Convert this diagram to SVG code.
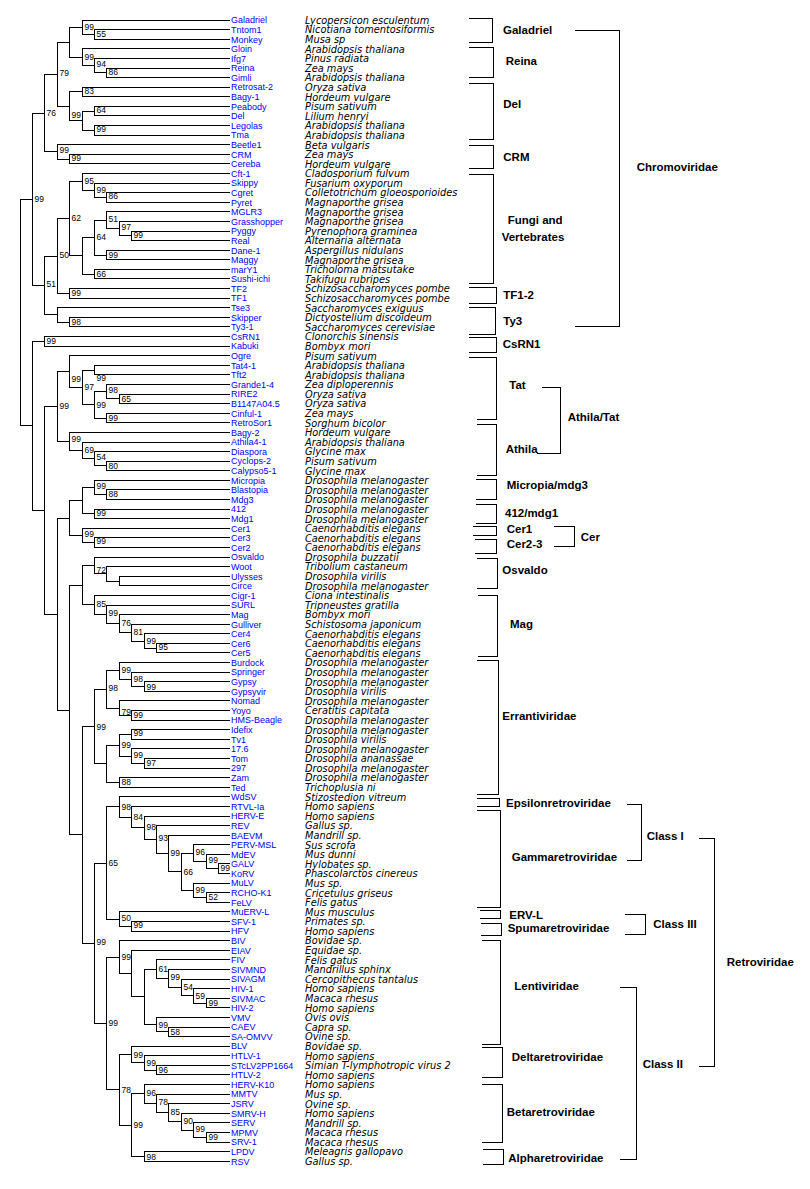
<svg xmlns="http://www.w3.org/2000/svg" width="810" height="1189" viewBox="0 0 810 1189">
<style>
.t{stroke:#000;stroke-width:1;fill:none;shape-rendering:crispEdges}
.bs{font-family:"Liberation Sans",Arial,sans-serif;font-size:8.5px;fill:#000}
.ln{font-family:"Liberation Sans",Arial,sans-serif;font-size:9px;fill:#0000FF}
.sp{font-family:"DejaVu Sans",sans-serif;font-style:italic;font-size:9.8px;fill:#000}
.gl{font-family:"Liberation Sans",Arial,sans-serif;font-weight:bold;font-size:11.5px;fill:#000}
</style>
<rect width="810" height="1189" fill="#fff"/>
<g id="branches" class="t">
<path d="M230 29.6H94.5V39.2H230"/><path d="M230 20H82.5V34.4H94.5"/><path d="M230 68H106.5V77.5H230"/><path d="M230 58.4H94.5V72.75H106.5"/><path d="M230 48.8H82.5V65.6H94.5"/><path d="M82.5 27.2H69.5V57.2H82.5"/>
<path d="M230 87.1H82.5V96.7H230"/><path d="M230 106.3H94.5V115.9H230"/><path d="M230 125.5H94.5V135.1H230"/><path d="M94.5 111.1H82.5V130.3H94.5"/><path d="M82.5 91.9H69.5V120.7H82.5"/><path d="M69.5 42.2H57.5V106.3H69.5"/>
<path d="M230 154.3H69.5V163.9H230"/><path d="M230 144.7H57.5V159.1H69.5"/><path d="M57.5 74.25H44.5V151.9H57.5"/>
<path d="M230 192.6H106.5V202.2H230"/><path d="M230 183H94.5V197.4H106.5"/><path d="M230 173.4H82.5V190.2H94.5"/><path d="M230 231H131.5V240.6H230"/><path d="M230 221.4H119.5V235.8H131.5"/><path d="M230 211.8H106.5V228.6H119.5"/><path d="M230 250.2H106.5V259.8H230"/><path d="M106.5 220.2H94.5V255H106.5"/><path d="M230 269.3H94.5V278.9H230"/><path d="M94.5 237.6H82.5V274.1H94.5"/><path d="M82.5 181.8H69.5V255.85H82.5"/><path d="M230 288.5H69.5V298.1H230"/><path d="M69.5 218.8H57.5V293.3H69.5"/>
<path d="M230 317.3H69.5V326.9H230"/><path d="M230 307.7H57.5V322.1H69.5"/><path d="M57.5 256.05H44.5V314.9H57.5"/><path d="M44.5 113.1H32.5V285.5H44.5"/>
<path d="M230 336.5H44.5V346.1H230"/>
<path d="M230 365.2H94.5V374.8H230"/><path d="M230 394H119.5V403.6H230"/><path d="M230 384.4H106.5V398.8H119.5"/><path d="M230 413.2H106.5V422.8H230"/><path d="M106.5 391.6H94.5V418H106.5"/><path d="M94.5 370H82.5V404.8H94.5"/><path d="M230 355.7H69.5V387.4H82.5"/>
<path d="M230 461.1H106.5V470.7H230"/><path d="M230 451.6H94.5V465.9H106.5"/><path d="M230 442H82.5V458.75H94.5"/><path d="M230 432.4H69.5V450.4H82.5"/><path d="M69.5 371.55H57.5V441.4H69.5"/>
<path d="M230 489.9H106.5V499.5H230"/><path d="M230 480.3H94.5V494.7H106.5"/><path d="M230 509.1H94.5V518.7H230"/><path d="M94.5 487.5H82.5V513.9H94.5"/><path d="M230 537.9H94.5V547.5H230"/><path d="M230 528.3H82.5V542.7H94.5"/><path d="M82.5 500.7H69.5V535.5H82.5"/>
<path d="M230 576.2H119.5V585.8H230"/><path d="M230 566.6H106.5V581H119.5"/><path d="M230 557H94.5V573.8H106.5"/>
<path d="M230 643.4H156.5V652.9H230"/><path d="M230 633.8H144.5V648.15H156.5"/><path d="M230 624.2H131.5V641H144.5"/><path d="M230 614.6H119.5V632.6H131.5"/><path d="M230 605H106.5V623.6H119.5"/><path d="M230 595.4H94.5V614.3H106.5"/><path d="M94.5 565.4H82.5V604.85H94.5"/>
<path d="M230 681.7H144.5V691.3H230"/><path d="M230 672.1H131.5V686.5H144.5"/><path d="M230 662.5H119.5V679.3H131.5"/><path d="M230 710.5H131.5V720.1H230"/><path d="M230 700.9H119.5V715.3H131.5"/><path d="M119.5 670.9H106.5V708.1H119.5"/>
<path d="M230 729.7H131.5V739.3H230"/><path d="M230 758.4H144.5V768H230"/><path d="M230 748.8H131.5V763.2H144.5"/><path d="M131.5 734.5H119.5V756H131.5"/><path d="M230 777.6H119.5V787.2H230"/><path d="M119.5 745.25H106.5V782.4H119.5"/><path d="M106.5 689.5H94.5V763.8H106.5"/>
<path d="M230 863.9H218.5V873.5H230"/><path d="M230 854.3H206.5V868.7H218.5"/><path d="M230 844.7H193.5V861.5H206.5"/><path d="M230 892.7H206.5V902.3H230"/><path d="M230 883.1H193.5V897.5H206.5"/><path d="M193.5 853.1H181.5V890.3H193.5"/><path d="M230 835.2H168.5V871.7H181.5"/><path d="M230 825.6H156.5V853.45H168.5"/><path d="M230 816H144.5V839.5H156.5"/><path d="M230 806.4H131.5V827.75H144.5"/><path d="M230 796.8H119.5V817.1H131.5"/>
<path d="M230 921.5H131.5V931.1H230"/><path d="M230 911.9H119.5V926.3H131.5"/><path d="M119.5 806.95H106.5V919.1H119.5"/>
<path d="M230 998.2H206.5V1007.8H230"/><path d="M230 988.6H193.5V1003H206.5"/><path d="M230 979H181.5V995.8H193.5"/><path d="M230 969.4H168.5V987.4H181.5"/><path d="M230 959.8H156.5V978.4H168.5"/><path d="M230 1027H168.5V1036.5H230"/><path d="M230 1017.4H156.5V1031.75H168.5"/><path d="M156.5 969.1H144.5V1024.6H156.5"/><path d="M230 950.2H131.5V996.85H144.5"/><path d="M230 940.6H119.5V973.5H131.5"/>
<path d="M230 1065.3H156.5V1074.9H230"/><path d="M230 1055.7H144.5V1070.1H156.5"/><path d="M230 1046.1H131.5V1062.9H144.5"/>
<path d="M230 1132.4H206.5V1142H230"/><path d="M230 1122.9H193.5V1137.2H206.5"/><path d="M230 1113.3H181.5V1130.05H193.5"/><path d="M230 1103.7H168.5V1121.7H181.5"/><path d="M230 1094.1H156.5V1112.7H168.5"/><path d="M230 1084.5H144.5V1103.4H156.5"/><path d="M230 1151.6H144.5V1161.2H230"/><path d="M144.5 1093.95H131.5V1156.4H144.5"/><path d="M131.5 1054.5H119.5V1125.2H131.5"/><path d="M119.5 957.05H106.5V1089.85H119.5"/><path d="M106.5 863H94.5V1023.45H106.5"/>
<path d="M94.5 726.65H82.5V943.2H94.5"/><path d="M82.5 585.1H69.5V834.9H82.5"/><path d="M69.5 518.1H57.5V710H69.5"/><path d="M57.5 406.5H44.5V614.05H57.5"/><path d="M44.5 341.3H32.5V510.3H44.5"/><path d="M32.5 199.3H20.5V425.8H32.5"/>
</g>
<g id="bootstrap" class="bs">
<text x="96.5" y="37.2">55</text><text x="84.5" y="29.7">99</text><text x="108.5" y="74.7">86</text><text x="96.5" y="67.3">94</text><text x="84.5" y="59.7">99</text><text x="84.5" y="93.7">83</text><text x="96.5" y="113">64</text><text x="96.5" y="132.3">99</text><text x="71.5" y="118">99</text><text x="59.5" y="76.3">79</text><text x="71.5" y="161.3">99</text><text x="59.5" y="153">99</text><text x="46.5" y="115.7">76</text>
<text x="108.5" y="199">86</text><text x="96.5" y="193">99</text><text x="84.5" y="184">95</text><text x="133.5" y="237.5">99</text><text x="121.5" y="230.3">97</text><text x="108.5" y="222.3">51</text><text x="108.5" y="257.7">99</text><text x="96.5" y="239.7">64</text><text x="96.5" y="277">66</text><text x="71.5" y="221.3">62</text><text x="71.5" y="296.3">99</text><text x="59.5" y="258">50</text><text x="71.5" y="324.7">98</text><text x="46.5" y="287.3">51</text><text x="34.5" y="202">99</text>
<text x="46.5" y="344">99</text><text x="96.5" y="381.3">99</text><text x="121.5" y="401.7">65</text><text x="108.5" y="393">98</text><text x="108.5" y="421">99</text><text x="96.5" y="407.7">99</text><text x="84.5" y="389.7">97</text><text x="71.5" y="382.3">99</text>
<text x="108.5" y="469">80</text><text x="96.5" y="460.3">54</text><text x="84.5" y="452.7">69</text><text x="71.5" y="442.3">99</text><text x="59.5" y="409">99</text>
<text x="108.5" y="497">88</text><text x="96.5" y="489">99</text><text x="96.5" y="516.3">99</text><text x="96.5" y="544.3">99</text><text x="84.5" y="537.3">99</text><text x="96.5" y="573">72</text>
<text x="158.5" y="649.7">95</text><text x="146.5" y="643.7">99</text><text x="133.5" y="634.7">81</text><text x="121.5" y="625.7">76</text><text x="108.5" y="616.3">99</text><text x="96.5" y="607.3">85</text>
<text x="146.5" y="689.7">99</text><text x="133.5" y="682.3">98</text><text x="121.5" y="673">99</text><text x="133.5" y="718">99</text><text x="121.5" y="714.5">79</text><text x="108.5" y="691.3">98</text><text x="133.5" y="736.3">99</text><text x="146.5" y="765.7">97</text><text x="133.5" y="758">99</text><text x="121.5" y="748">99</text><text x="121.5" y="785.3">88</text><text x="96.5" y="729.7">99</text>
<text x="220.5" y="870.7">99</text><text x="208.5" y="863">99</text><text x="195.5" y="855.3">96</text><text x="208.5" y="900.3">52</text><text x="195.5" y="893">99</text><text x="183.5" y="874.7">66</text><text x="170.5" y="855.7">99</text><text x="158.5" y="841.3">93</text><text x="146.5" y="830.3">98</text><text x="133.5" y="819.7">84</text><text x="121.5" y="809.7">98</text><text x="133.5" y="928">99</text><text x="121.5" y="921.3">50</text><text x="108.5" y="865.7">65</text>
<text x="208.5" y="1005.7">99</text><text x="195.5" y="999">59</text><text x="183.5" y="989.7">54</text><text x="170.5" y="980.3">99</text><text x="158.5" y="972">61</text><text x="170.5" y="1034.7">58</text><text x="158.5" y="1028">99</text><text x="121.5" y="959.7">99</text>
<text x="158.5" y="1073">96</text><text x="146.5" y="1066.3">99</text><text x="133.5" y="1058">99</text><text x="208.5" y="1140.3">99</text><text x="195.5" y="1132.3">99</text><text x="183.5" y="1123.7">90</text><text x="170.5" y="1114.7">85</text><text x="158.5" y="1105.3">78</text><text x="146.5" y="1096.3">96</text><text x="146.5" y="1159.7">98</text><text x="133.5" y="1128">99</text><text x="121.5" y="1093">78</text><text x="108.5" y="1025.7">99</text><text x="96.5" y="944.7">99</text>
</g>
<g id="leaves">
<g id="l0" transform="translate(0,20)"><text class="ln" x="231" y="3.3">Galadriel</text><text class="sp" x="305" y="3.8">Lycopersicon esculentum</text></g>
<g id="l1" transform="translate(0,29.6)"><text class="ln" x="231" y="3.3">Tntom1</text><text class="sp" x="305" y="3.8">Nicotiana tomentosiformis</text></g>
<g id="l2" transform="translate(0,39.2)"><text class="ln" x="231" y="3.3">Monkey</text><text class="sp" x="305" y="3.8">Musa sp</text></g>
<g id="l3" transform="translate(0,48.8)"><text class="ln" x="231" y="3.3">Gloin</text><text class="sp" x="305" y="3.8">Arabidopsis thaliana</text></g>
<g id="l4" transform="translate(0,58.4)"><text class="ln" x="231" y="3.3">Ifg7</text><text class="sp" x="305" y="3.8">Pinus radiata</text></g>
<g id="l5" transform="translate(0,68)"><text class="ln" x="231" y="3.3">Reina</text><text class="sp" x="305" y="3.8">Zea mays</text></g>
<g id="l6" transform="translate(0,77.5)"><text class="ln" x="231" y="3.3">Gimli</text><text class="sp" x="305" y="3.8">Arabidopsis thaliana</text></g>
<g id="l7" transform="translate(0,87.1)"><text class="ln" x="231" y="3.3">Retrosat-2</text><text class="sp" x="305" y="3.8">Oryza sativa</text></g>
<g id="l8" transform="translate(0,96.7)"><text class="ln" x="231" y="3.3">Bagy-1</text><text class="sp" x="305" y="3.8">Hordeum vulgare</text></g>
<g id="l9" transform="translate(0,106.3)"><text class="ln" x="231" y="3.3">Peabody</text><text class="sp" x="305" y="3.8">Pisum sativum</text></g>
<g id="l10" transform="translate(0,115.9)"><text class="ln" x="231" y="3.3">Del</text><text class="sp" x="305" y="3.8">Lilium henryi</text></g>
<g id="l11" transform="translate(0,125.5)"><text class="ln" x="231" y="3.3">Legolas</text><text class="sp" x="305" y="3.8">Arabidopsis thaliana</text></g>
<g id="l12" transform="translate(0,135.1)"><text class="ln" x="231" y="3.3">Tma</text><text class="sp" x="305" y="3.8">Arabidopsis thaliana</text></g>
<g id="l13" transform="translate(0,144.7)"><text class="ln" x="231" y="3.3">Beetle1</text><text class="sp" x="305" y="3.8">Beta vulgaris</text></g>
<g id="l14" transform="translate(0,154.3)"><text class="ln" x="231" y="3.3">CRM</text><text class="sp" x="305" y="3.8">Zea mays</text></g>
<g id="l15" transform="translate(0,163.9)"><text class="ln" x="231" y="3.3">Cereba</text><text class="sp" x="305" y="3.8">Hordeum vulgare</text></g>
<g id="l16" transform="translate(0,173.4)"><text class="ln" x="231" y="3.3">Cft-1</text><text class="sp" x="305" y="3.8">Cladosporium fulvum</text></g>
<g id="l17" transform="translate(0,183)"><text class="ln" x="231" y="3.3">Skippy</text><text class="sp" x="305" y="3.8">Fusarium oxyporum</text></g>
<g id="l18" transform="translate(0,192.6)"><text class="ln" x="231" y="3.3">Cgret</text><text class="sp" x="305" y="3.8">Colletotrichum gloeosporioides</text></g>
<g id="l19" transform="translate(0,202.2)"><text class="ln" x="231" y="3.3">Pyret</text><text class="sp" x="305" y="3.8">Magnaporthe grisea</text></g>
<g id="l20" transform="translate(0,211.8)"><text class="ln" x="231" y="3.3">MGLR3</text><text class="sp" x="305" y="3.8">Magnaporthe grisea</text></g>
<g id="l21" transform="translate(0,221.4)"><text class="ln" x="231" y="3.3">Grasshopper</text><text class="sp" x="305" y="3.8">Magnaporthe grisea</text></g>
<g id="l22" transform="translate(0,231)"><text class="ln" x="231" y="3.3">Pyggy</text><text class="sp" x="305" y="3.8">Pyrenophora graminea</text></g>
<g id="l23" transform="translate(0,240.6)"><text class="ln" x="231" y="3.3">Real</text><text class="sp" x="305" y="3.8">Alternaria alternata</text></g>
<g id="l24" transform="translate(0,250.2)"><text class="ln" x="231" y="3.3">Dane-1</text><text class="sp" x="305" y="3.8">Aspergillus nidulans</text></g>
<g id="l25" transform="translate(0,259.8)"><text class="ln" x="231" y="3.3">Maggy</text><text class="sp" x="305" y="3.8">Magnaporthe grisea</text></g>
<g id="l26" transform="translate(0,269.3)"><text class="ln" x="231" y="3.3">marY1</text><text class="sp" x="305" y="3.8">Tricholoma matsutake</text></g>
<g id="l27" transform="translate(0,278.9)"><text class="ln" x="231" y="3.3">Sushi-ichi</text><text class="sp" x="305" y="3.8">Takifugu rubripes</text></g>
<g id="l28" transform="translate(0,288.5)"><text class="ln" x="231" y="3.3">TF2</text><text class="sp" x="305" y="3.8">Schizosaccharomyces pombe</text></g>
<g id="l29" transform="translate(0,298.1)"><text class="ln" x="231" y="3.3">TF1</text><text class="sp" x="305" y="3.8">Schizosaccharomyces pombe</text></g>
<g id="l30" transform="translate(0,307.7)"><text class="ln" x="231" y="3.3">Tse3</text><text class="sp" x="305" y="3.8">Saccharomyces exiguus</text></g>
<g id="l31" transform="translate(0,317.3)"><text class="ln" x="231" y="3.3">Skipper</text><text class="sp" x="305" y="3.8">Dictyostelium discoideum</text></g>
<g id="l32" transform="translate(0,326.9)"><text class="ln" x="231" y="3.3">Ty3-1</text><text class="sp" x="305" y="3.8">Saccharomyces cerevisiae</text></g>
<g id="l33" transform="translate(0,336.5)"><text class="ln" x="231" y="3.3">CsRN1</text><text class="sp" x="305" y="3.8">Clonorchis sinensis</text></g>
<g id="l34" transform="translate(0,346.1)"><text class="ln" x="231" y="3.3">Kabuki</text><text class="sp" x="305" y="3.8">Bombyx mori</text></g>
<g id="l35" transform="translate(0,355.7)"><text class="ln" x="231" y="3.3">Ogre</text><text class="sp" x="305" y="3.8">Pisum sativum</text></g>
<g id="l36" transform="translate(0,365.2)"><text class="ln" x="231" y="3.3">Tat4-1</text><text class="sp" x="305" y="3.8">Arabidopsis thaliana</text></g>
<g id="l37" transform="translate(0,374.8)"><text class="ln" x="231" y="3.3">Tft2</text><text class="sp" x="305" y="3.8">Arabidopsis thaliana</text></g>
<g id="l38" transform="translate(0,384.4)"><text class="ln" x="231" y="3.3">Grande1-4</text><text class="sp" x="305" y="3.8">Zea diploperennis</text></g>
<g id="l39" transform="translate(0,394)"><text class="ln" x="231" y="3.3">RIRE2</text><text class="sp" x="305" y="3.8">Oryza sativa</text></g>
<g id="l40" transform="translate(0,403.6)"><text class="ln" x="231" y="3.3">B1147A04.5</text><text class="sp" x="305" y="3.8">Oryza sativa</text></g>
<g id="l41" transform="translate(0,413.2)"><text class="ln" x="231" y="3.3">Cinful-1</text><text class="sp" x="305" y="3.8">Zea mays</text></g>
<g id="l42" transform="translate(0,422.8)"><text class="ln" x="231" y="3.3">RetroSor1</text><text class="sp" x="305" y="3.8">Sorghum bicolor</text></g>
<g id="l43" transform="translate(0,432.4)"><text class="ln" x="231" y="3.3">Bagy-2</text><text class="sp" x="305" y="3.8">Hordeum vulgare</text></g>
<g id="l44" transform="translate(0,442)"><text class="ln" x="231" y="3.3">Athila4-1</text><text class="sp" x="305" y="3.8">Arabidopsis thaliana</text></g>
<g id="l45" transform="translate(0,451.6)"><text class="ln" x="231" y="3.3">Diaspora</text><text class="sp" x="305" y="3.8">Glycine max</text></g>
<g id="l46" transform="translate(0,461.1)"><text class="ln" x="231" y="3.3">Cyclops-2</text><text class="sp" x="305" y="3.8">Pisum sativum</text></g>
<g id="l47" transform="translate(0,470.7)"><text class="ln" x="231" y="3.3">Calypso5-1</text><text class="sp" x="305" y="3.8">Glycine max</text></g>
<g id="l48" transform="translate(0,480.3)"><text class="ln" x="231" y="3.3">Micropia</text><text class="sp" x="305" y="3.8">Drosophila melanogaster</text></g>
<g id="l49" transform="translate(0,489.9)"><text class="ln" x="231" y="3.3">Blastopia</text><text class="sp" x="305" y="3.8">Drosophila melanogaster</text></g>
<g id="l50" transform="translate(0,499.5)"><text class="ln" x="231" y="3.3">Mdg3</text><text class="sp" x="305" y="3.8">Drosophila melanogaster</text></g>
<g id="l51" transform="translate(0,509.1)"><text class="ln" x="231" y="3.3">412</text><text class="sp" x="305" y="3.8">Drosophila melanogaster</text></g>
<g id="l52" transform="translate(0,518.7)"><text class="ln" x="231" y="3.3">Mdg1</text><text class="sp" x="305" y="3.8">Drosophila melanogaster</text></g>
<g id="l53" transform="translate(0,528.3)"><text class="ln" x="231" y="3.3">Cer1</text><text class="sp" x="305" y="3.8">Caenorhabditis elegans</text></g>
<g id="l54" transform="translate(0,537.9)"><text class="ln" x="231" y="3.3">Cer3</text><text class="sp" x="305" y="3.8">Caenorhabditis elegans</text></g>
<g id="l55" transform="translate(0,547.5)"><text class="ln" x="231" y="3.3">Cer2</text><text class="sp" x="305" y="3.8">Caenorhabditis elegans</text></g>
<g id="l56" transform="translate(0,557)"><text class="ln" x="231" y="3.3">Osvaldo</text><text class="sp" x="305" y="3.8">Drosophila buzzatii</text></g>
<g id="l57" transform="translate(0,566.6)"><text class="ln" x="231" y="3.3">Woot</text><text class="sp" x="305" y="3.8">Tribolium castaneum</text></g>
<g id="l58" transform="translate(0,576.2)"><text class="ln" x="231" y="3.3">Ulysses</text><text class="sp" x="305" y="3.8">Drosophila virilis</text></g>
<g id="l59" transform="translate(0,585.8)"><text class="ln" x="231" y="3.3">Circe</text><text class="sp" x="305" y="3.8">Drosophila melanogaster</text></g>
<g id="l60" transform="translate(0,595.4)"><text class="ln" x="231" y="3.3">Cigr-1</text><text class="sp" x="305" y="3.8">Ciona intestinalis</text></g>
<g id="l61" transform="translate(0,605)"><text class="ln" x="231" y="3.3">SURL</text><text class="sp" x="305" y="3.8">Tripneustes gratilla</text></g>
<g id="l62" transform="translate(0,614.6)"><text class="ln" x="231" y="3.3">Mag</text><text class="sp" x="305" y="3.8">Bombyx mori</text></g>
<g id="l63" transform="translate(0,624.2)"><text class="ln" x="231" y="3.3">Gulliver</text><text class="sp" x="305" y="3.8">Schistosoma japonicum</text></g>
<g id="l64" transform="translate(0,633.8)"><text class="ln" x="231" y="3.3">Cer4</text><text class="sp" x="305" y="3.8">Caenorhabditis elegans</text></g>
<g id="l65" transform="translate(0,643.4)"><text class="ln" x="231" y="3.3">Cer6</text><text class="sp" x="305" y="3.8">Caenorhabditis elegans</text></g>
<g id="l66" transform="translate(0,652.9)"><text class="ln" x="231" y="3.3">Cer5</text><text class="sp" x="305" y="3.8">Caenorhabditis elegans</text></g>
<g id="l67" transform="translate(0,662.5)"><text class="ln" x="231" y="3.3">Burdock</text><text class="sp" x="305" y="3.8">Drosophila melanogaster</text></g>
<g id="l68" transform="translate(0,672.1)"><text class="ln" x="231" y="3.3">Springer</text><text class="sp" x="305" y="3.8">Drosophila melanogaster</text></g>
<g id="l69" transform="translate(0,681.7)"><text class="ln" x="231" y="3.3">Gypsy</text><text class="sp" x="305" y="3.8">Drosophila melanogaster</text></g>
<g id="l70" transform="translate(0,691.3)"><text class="ln" x="231" y="3.3">Gypsyvir</text><text class="sp" x="305" y="3.8">Drosophila virilis</text></g>
<g id="l71" transform="translate(0,700.9)"><text class="ln" x="231" y="3.3">Nomad</text><text class="sp" x="305" y="3.8">Drosophila melanogaster</text></g>
<g id="l72" transform="translate(0,710.5)"><text class="ln" x="231" y="3.3">Yoyo</text><text class="sp" x="305" y="3.8">Ceratitis capitata</text></g>
<g id="l73" transform="translate(0,720.1)"><text class="ln" x="231" y="3.3">HMS-Beagle</text><text class="sp" x="305" y="3.8">Drosophila melanogaster</text></g>
<g id="l74" transform="translate(0,729.7)"><text class="ln" x="231" y="3.3">Idefix</text><text class="sp" x="305" y="3.8">Drosophila melanogaster</text></g>
<g id="l75" transform="translate(0,739.3)"><text class="ln" x="231" y="3.3">Tv1</text><text class="sp" x="305" y="3.8">Drosophila virilis</text></g>
<g id="l76" transform="translate(0,748.8)"><text class="ln" x="231" y="3.3">17.6</text><text class="sp" x="305" y="3.8">Drosophila melanogaster</text></g>
<g id="l77" transform="translate(0,758.4)"><text class="ln" x="231" y="3.3">Tom</text><text class="sp" x="305" y="3.8">Drosophila ananassae</text></g>
<g id="l78" transform="translate(0,768)"><text class="ln" x="231" y="3.3">297</text><text class="sp" x="305" y="3.8">Drosophila melanogaster</text></g>
<g id="l79" transform="translate(0,777.6)"><text class="ln" x="231" y="3.3">Zam</text><text class="sp" x="305" y="3.8">Drosophila melanogaster</text></g>
<g id="l80" transform="translate(0,787.2)"><text class="ln" x="231" y="3.3">Ted</text><text class="sp" x="305" y="3.8">Trichoplusia ni</text></g>
<g id="l81" transform="translate(0,796.8)"><text class="ln" x="231" y="3.3">WdSV</text><text class="sp" x="305" y="3.8">Stizostedion vitreum</text></g>
<g id="l82" transform="translate(0,806.4)"><text class="ln" x="231" y="3.3">RTVL-Ia</text><text class="sp" x="305" y="3.8">Homo sapiens</text></g>
<g id="l83" transform="translate(0,816)"><text class="ln" x="231" y="3.3">HERV-E</text><text class="sp" x="305" y="3.8">Homo sapiens</text></g>
<g id="l84" transform="translate(0,825.6)"><text class="ln" x="231" y="3.3">REV</text><text class="sp" x="305" y="3.8">Gallus sp.</text></g>
<g id="l85" transform="translate(0,835.2)"><text class="ln" x="231" y="3.3">BAEVM</text><text class="sp" x="305" y="3.8">Mandrill sp.</text></g>
<g id="l86" transform="translate(0,844.7)"><text class="ln" x="231" y="3.3">PERV-MSL</text><text class="sp" x="305" y="3.8">Sus scrofa</text></g>
<g id="l87" transform="translate(0,854.3)"><text class="ln" x="231" y="3.3">MdEV</text><text class="sp" x="305" y="3.8">Mus dunni</text></g>
<g id="l88" transform="translate(0,863.9)"><text class="ln" x="231" y="3.3">GALV</text><text class="sp" x="305" y="3.8">Hylobates sp.</text></g>
<g id="l89" transform="translate(0,873.5)"><text class="ln" x="231" y="3.3">KoRV</text><text class="sp" x="305" y="3.8">Phascolarctos cinereus</text></g>
<g id="l90" transform="translate(0,883.1)"><text class="ln" x="231" y="3.3">MuLV</text><text class="sp" x="305" y="3.8">Mus sp.</text></g>
<g id="l91" transform="translate(0,892.7)"><text class="ln" x="231" y="3.3">RCHO-K1</text><text class="sp" x="305" y="3.8">Cricetulus griseus</text></g>
<g id="l92" transform="translate(0,902.3)"><text class="ln" x="231" y="3.3">FeLV</text><text class="sp" x="305" y="3.8">Felis gatus</text></g>
<g id="l93" transform="translate(0,911.9)"><text class="ln" x="231" y="3.3">MuERV-L</text><text class="sp" x="305" y="3.8">Mus musculus</text></g>
<g id="l94" transform="translate(0,921.5)"><text class="ln" x="231" y="3.3">SFV-1</text><text class="sp" x="305" y="3.8">Primates sp.</text></g>
<g id="l95" transform="translate(0,931.1)"><text class="ln" x="231" y="3.3">HFV</text><text class="sp" x="305" y="3.8">Homo sapiens</text></g>
<g id="l96" transform="translate(0,940.6)"><text class="ln" x="231" y="3.3">BIV</text><text class="sp" x="305" y="3.8">Bovidae sp.</text></g>
<g id="l97" transform="translate(0,950.2)"><text class="ln" x="231" y="3.3">EIAV</text><text class="sp" x="305" y="3.8">Equidae sp.</text></g>
<g id="l98" transform="translate(0,959.8)"><text class="ln" x="231" y="3.3">FIV</text><text class="sp" x="305" y="3.8">Felis gatus</text></g>
<g id="l99" transform="translate(0,969.4)"><text class="ln" x="231" y="3.3">SIVMND</text><text class="sp" x="305" y="3.8">Mandrillus sphinx</text></g>
<g id="l100" transform="translate(0,979)"><text class="ln" x="231" y="3.3">SIVAGM</text><text class="sp" x="305" y="3.8">Cercopithecus tantalus</text></g>
<g id="l101" transform="translate(0,988.6)"><text class="ln" x="231" y="3.3">HIV-1</text><text class="sp" x="305" y="3.8">Homo sapiens</text></g>
<g id="l102" transform="translate(0,998.2)"><text class="ln" x="231" y="3.3">SIVMAC</text><text class="sp" x="305" y="3.8">Macaca rhesus</text></g>
<g id="l103" transform="translate(0,1007.8)"><text class="ln" x="231" y="3.3">HIV-2</text><text class="sp" x="305" y="3.8">Homo sapiens</text></g>
<g id="l104" transform="translate(0,1017.4)"><text class="ln" x="231" y="3.3">VMV</text><text class="sp" x="305" y="3.8">Ovis ovis</text></g>
<g id="l105" transform="translate(0,1027)"><text class="ln" x="231" y="3.3">CAEV</text><text class="sp" x="305" y="3.8">Capra sp.</text></g>
<g id="l106" transform="translate(0,1036.5)"><text class="ln" x="231" y="3.3">SA-OMVV</text><text class="sp" x="305" y="3.8">Ovine sp.</text></g>
<g id="l107" transform="translate(0,1046.1)"><text class="ln" x="231" y="3.3">BLV</text><text class="sp" x="305" y="3.8">Bovidae sp.</text></g>
<g id="l108" transform="translate(0,1055.7)"><text class="ln" x="231" y="3.3">HTLV-1</text><text class="sp" x="305" y="3.8">Homo sapiens</text></g>
<g id="l109" transform="translate(0,1065.3)"><text class="ln" x="231" y="3.3">STcLV2PP1664</text><text class="sp" x="305" y="3.8">Simian T-lymphotropic virus 2</text></g>
<g id="l110" transform="translate(0,1074.9)"><text class="ln" x="231" y="3.3">HTLV-2</text><text class="sp" x="305" y="3.8">Homo sapiens</text></g>
<g id="l111" transform="translate(0,1084.5)"><text class="ln" x="231" y="3.3">HERV-K10</text><text class="sp" x="305" y="3.8">Homo sapiens</text></g>
<g id="l112" transform="translate(0,1094.1)"><text class="ln" x="231" y="3.3">MMTV</text><text class="sp" x="305" y="3.8">Mus sp.</text></g>
<g id="l113" transform="translate(0,1103.7)"><text class="ln" x="231" y="3.3">JSRV</text><text class="sp" x="305" y="3.8">Ovine sp.</text></g>
<g id="l114" transform="translate(0,1113.3)"><text class="ln" x="231" y="3.3">SMRV-H</text><text class="sp" x="305" y="3.8">Homo sapiens</text></g>
<g id="l115" transform="translate(0,1122.9)"><text class="ln" x="231" y="3.3">SERV</text><text class="sp" x="305" y="3.8">Mandrill sp.</text></g>
<g id="l116" transform="translate(0,1132.4)"><text class="ln" x="231" y="3.3">MPMV</text><text class="sp" x="305" y="3.8">Macaca rhesus</text></g>
<g id="l117" transform="translate(0,1142)"><text class="ln" x="231" y="3.3">SRV-1</text><text class="sp" x="305" y="3.8">Macaca rhesus</text></g>
<g id="l118" transform="translate(0,1151.6)"><text class="ln" x="231" y="3.3">LPDV</text><text class="sp" x="305" y="3.8">Meleagris gallopavo</text></g>
<g id="l119" transform="translate(0,1161.2)"><text class="ln" x="231" y="3.3">RSV</text><text class="sp" x="305" y="3.8">Gallus sp.</text></g>
</g>
<g id="clades">
<g id="c-galadriel"><path class="t" d="M469 18.3H492.5V42.3H469"/><text class="gl" x="503" y="34">Galadriel</text></g>
<g id="c-reina"><path class="t" d="M469 47.3H493.5V77.3H469"/><text class="gl" x="505.7" y="64.7">Reina</text></g>
<g id="c-del"><path class="t" d="M469 83.3H493.5V139H469"/><text class="gl" x="503.3" y="108">Del</text></g>
<g id="c-crm"><path class="t" d="M469 145H493.5V168.3H469"/><text class="gl" x="503.3" y="161.3">CRM</text></g>
<g id="c-fungi"><path class="t" d="M469 174H493.5V283.3H469"/><text class="gl" x="507.7" y="224">Fungi and</text><text class="gl" x="501.7" y="240.7">Vertebrates</text></g>
<g id="c-tf12"><path class="t" d="M469 287.3H496V303.3H469"/><text class="gl" x="503.3" y="299">TF1-2</text></g>
<g id="c-ty3"><path class="t" d="M469 307.3H495.5V334H469"/><text class="gl" x="503.3" y="325">Ty3</text></g>
<g id="c-csrn1"><path class="t" d="M469 337.3H496V352.3H469"/><text class="gl" x="502.7" y="348.3">CsRN1</text></g>
<g id="c-tat"><path class="t" d="M469 357.3H496.5V419.3H476.7"/><text class="gl" x="509.3" y="389">Tat</text></g>
<g id="c-athila"><path class="t" d="M476.7 424.3H496.5V475H476.7"/><text class="gl" x="505.7" y="453">Athila</text></g>
<g id="c-micropia"><path class="t" d="M476 479H496.5V499H476"/><text class="gl" x="506.7" y="489">Micropia/mdg3</text></g>
<g id="c-412"><path class="t" d="M476 504.3H496.5V523.3H476"/><text class="gl" x="505" y="516.7">412/mdg1</text></g>
<g id="c-cer1"><path class="t" d="M473.3 526.7H496.5V535H473.3"/><text class="gl" x="506.7" y="533.3">Cer1</text></g>
<g id="c-cer23"><path class="t" d="M475 539.3H496.5V553.3H475"/><text class="gl" x="506.7" y="548.3">Cer2-3</text></g>
<g id="c-osvaldo"><path class="t" d="M477.3 558.3H497.5V588.3H477.3"/><text class="gl" x="502.3" y="574">Osvaldo</text></g>
<g id="c-mag"><path class="t" d="M478.3 595H497.5V656H478.3"/><text class="gl" x="510" y="628">Mag</text></g>
<g id="c-errant"><path class="t" d="M477 660H498.5V794.3H477"/><text class="gl" x="502.3" y="719.7">Errantiviridae</text></g>
<g id="c-epsilon"><path class="t" d="M477.3 798.3H499.3V806.7H477.3"/><text class="gl" x="506" y="806.7">Epsilonretroviridae</text></g>
<g id="c-gamma"><path class="t" d="M477.3 810.7H500V907.3H477.3"/><text class="gl" x="511.7" y="861.3">Gammaretroviridae</text></g>
<g id="c-ervl"><path class="t" d="M480 910.7H500V918.3H480"/><text class="gl" x="509.3" y="919">ERV-L</text></g>
<g id="c-spuma"><path class="t" d="M481 923.3H501V935.7H481"/><text class="gl" x="507.7" y="932.3">Spumaretroviridae</text></g>
<g id="c-lenti"><path class="t" d="M481.7 940H500V1044H481.7"/><text class="gl" x="514.3" y="989.7">Lentiviridae</text></g>
<g id="c-delta"><path class="t" d="M482.3 1047.3H502.3V1077.7H482.3"/><text class="gl" x="511.7" y="1061.3">Deltaretroviridae</text></g>
<g id="c-beta"><path class="t" d="M482.3 1084H502.3V1142.7H482.3"/><text class="gl" x="506.7" y="1116.3">Betaretroviridae</text></g>
<g id="c-alpha"><path class="t" d="M483.3 1149.3H503.3V1164H483.3"/><text class="gl" x="508.3" y="1161.7">Alpharetroviridae</text></g>
<g id="c-chromo"><path class="t" d="M575 30H619.3V326H575"/><text class="gl" x="636.7" y="170.7">Chromoviridae</text></g>
<g id="c-athilatat"><path class="t" d="M541.7 387.3H560.7V453.3H536.7"/><text class="gl" x="567.7" y="420.7">Athila/Tat</text></g>
<g id="c-cer"><path class="t" d="M554 526H574.3V546H554"/><text class="gl" x="580.7" y="541.3">Cer</text></g>
<g id="c-class1"><path class="t" d="M626.7 804H641V860H626.7"/><text class="gl" x="646.7" y="839.7">Class I</text></g>
<g id="c-class3"><path class="t" d="M625 914.3H645V934H625"/><text class="gl" x="653.3" y="928">Class III</text></g>
<g id="c-class2"><path class="t" d="M620 987.3H636V1159.3H620"/><text class="gl" x="642.7" y="1068">Class II</text></g>
<g id="c-retro"><path class="t" d="M699.3 838.3H714.3V1066.7H699.3"/><text class="gl" x="726.7" y="965.7">Retroviridae</text></g>
</g>
</svg>
